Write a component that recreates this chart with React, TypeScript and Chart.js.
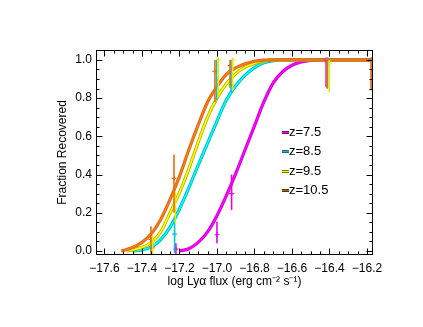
import { useEffect, useRef } from "react";
import { Chart, registerables } from "chart.js";

Chart.register(...registerables);

const FONT = '"Liberation Sans", Arial, Helvetica, sans-serif';

// axis ranges and tick labels
const X_MIN = -17.645;
const X_MAX = -16.168;
const Y_MIN = -0.021;
const Y_MAX = 1.052;
const xTickValues = [-17.6, -17.4, -17.2, -17.0, -16.8, -16.6, -16.4, -16.2];
const yTickValues = [0.0, 0.2, 0.4, 0.6, 0.8, 1.0];
const xTitle = "log Ly\u03b1 flux (erg cm\u207b\u00b2 s\u207b\u00b9)";
const yTitle = "Fraction Recovered";

const seriesLabels = ["z=7.5", "z=8.5", "z=9.5", "z=10.5"];

// fitted completeness curves
const fitX_z75 = [-17.2, -17.15, -17.1, -17.05, -17.0, -16.95, -16.9, -16.85, -16.8, -16.75, -16.7, -16.65, -16.6, -16.55, -16.5, -16.45, -16.4, -16.15];
const fitY_z75 = [0, 0.012, 0.045, 0.1, 0.185, 0.29, 0.405, 0.53, 0.655, 0.78, 0.88, 0.938, 0.972, 0.99, 0.998, 1.0, 1.0, 1.0];

const fitX_z85 = [-17.45, -17.4, -17.35, -17.3, -17.25, -17.2, -17.15, -17.1, -17.05, -17.0, -16.95, -16.9, -16.85, -16.8, -16.75, -16.7, -16.65, -16.6, -16.4, -16.15];
const fitY_z85 = [0, 0.006, 0.022, 0.06, 0.125, 0.22, 0.33, 0.45, 0.565, 0.68, 0.79, 0.865, 0.92, 0.96, 0.985, 0.996, 1.0, 1.0, 1.0, 1.0];

const fitX_z95 = [-17.48, -17.45, -17.4, -17.35, -17.3, -17.25, -17.2, -17.15, -17.1, -17.05, -17.0, -16.95, -16.9, -16.85, -16.8, -16.75, -16.7, -16.6, -16.4, -16.15];
const fitY_z95 = [0, 0.006, 0.018, 0.045, 0.1, 0.2, 0.305, 0.43, 0.57, 0.7, 0.8, 0.875, 0.928, 0.962, 0.982, 0.994, 1.0, 1.0, 1.0, 1.0];

const fitX_z105 = [-17.51, -17.45, -17.4, -17.35, -17.3, -17.25, -17.2, -17.15, -17.1, -17.05, -17.0, -16.95, -16.9, -16.85, -16.8, -16.75, -16.7, -16.6, -16.4, -16.15];
const fitY_z105 = [0, 0.018, 0.045, 0.09, 0.165, 0.27, 0.39, 0.53, 0.66, 0.78, 0.86, 0.925, 0.958, 0.98, 0.993, 0.999, 1.0, 1.0, 1.0, 1.0];

// measured points with error bars
const obsX_z75 = [-17.219, -17.0, -16.922, -16.418, -16.176];
const obsY_z75 = [0.01, 0.085, 0.3, 1.0, 1.0];
const obsLo_z75 = [-0.02, 0.04, 0.215, 0.86, 0.85];
const obsHi_z75 = [0.04, 0.153, 0.4, 1.0, 1.0];

const obsX_z85 = [-17.345, -17.226, -17.002, -16.925, -16.41, -16.174];
const obsY_z85 = [0.016, 0.088, 0.895, 0.87, 1.0, 1.0];
const obsLo_z85 = [-0.02, -0.01, 0.79, 0.83, 0.85, 0.845];
const obsHi_z85 = [0.035, 0.17, 1.0, 1.0, 1.0, 1.0];

const obsX_z95 = [-17.343, -17.222, -16.993, -16.916, -16.401, -16.171];
const obsY_z95 = [0.04, 0.22, 1.0, 1.0, 0.98, 0.98];
const obsLo_z95 = [-0.02, 0.145, 0.81, 0.84, 0.83, 0.84];
const obsHi_z95 = [0.085, 0.31, 1.01, 1.0, 1.0, 1.0];

const obsX_z105 = [-17.352, -17.229, -17.011, -16.93, -16.413, -16.178];
const obsY_z105 = [0.06, 0.38, 0.94, 0.97, 1.0, 1.0];
const obsLo_z105 = [-0.02, 0.2, 0.78, 0.855, 0.85, 0.84];
const obsHi_z105 = [0.13, 0.505, 1.0, 1.0, 1.0, 1.0];

const series = [
  { label: seriesLabels[0], fitX: fitX_z75, fitY: fitY_z75, obsX: obsX_z75, obsY: obsY_z75, lo: obsLo_z75, hi: obsHi_z75, line: "#ff00ff", edge: "#d000d8", bar: "#f000f0", swDark: "#800080", swLight: "#ff00ff" },
  { label: seriesLabels[1], fitX: fitX_z85, fitY: fitY_z85, obsX: obsX_z85, obsY: obsY_z85, lo: obsLo_z85, hi: obsHi_z85, line: "#00ffff", edge: "#00b8c0", bar: "#00c8d0", swDark: "#1a6a6a", swLight: "#40a8a8" },
  { label: seriesLabels[2], fitX: fitX_z95, fitY: fitY_z95, obsX: obsX_z95, obsY: obsY_z95, lo: obsLo_z95, hi: obsHi_z95, line: "#ffff00", edge: "#b4b400", bar: "#e8e800", swDark: "#7a7a00", swLight: "#ffff00" },
  { label: seriesLabels[3], fitX: fitX_z105, fitY: fitY_z105, obsX: obsX_z105, obsY: obsY_z105, lo: obsLo_z105, hi: obsHi_z105, line: "#f47a1c", edge: "#e06810", bar: "#e87010", swDark: "#5e3408", swLight: "#a06020" },
];

const toPts = (xs: number[], ys: number[]) => xs.map((x, i) => ({ x, y: ys[i] }));
const fmt = (v: number) => {
  const s = Number(v).toFixed(1);
  return s.startsWith("-") ? "\u2212" + s.slice(1) : s;
};

const errorBarPlugin = {
  id: "errorBars",
  afterDatasetsDraw(chart: any) {
    const { ctx, chartArea: a, scales } = chart;
    const xs = scales.x;
    const ys = scales.y;
    ctx.save();
    ctx.beginPath();
    ctx.rect(a.left, a.top, a.right - a.left, a.bottom - a.top);
    ctx.clip();
    ctx.lineWidth = 1.6;
    series.forEach((s) => {
      ctx.strokeStyle = s.bar;
      s.obsX.forEach((xv, i) => {
        const px = xs.getPixelForValue(xv);
        ctx.beginPath();
        ctx.moveTo(px, ys.getPixelForValue(s.lo[i]));
        ctx.lineTo(px, ys.getPixelForValue(s.hi[i]));
        ctx.stroke();
      });
    });
    ctx.restore();
  },
};

const framePlugin = {
  id: "frameTicks",
  afterDraw(chart: any) {
    const { ctx, chartArea: a, scales } = chart;
    const xs = scales.x;
    const ys = scales.y;
    ctx.save();
    ctx.strokeStyle = "#000";
    ctx.lineWidth = 1;
    const L = Math.round(a.left) + 0.5;
    const R = Math.round(a.right) - 0.5;
    const T = Math.round(a.top) + 0.5;
    const B = Math.round(a.bottom) - 0.5;
    ctx.strokeRect(L, T, R - L, B - T);
    const major = 6;
    const minor = 3;
    ctx.beginPath();
    // x ticks (bottom + top)
    const xStep = xTickValues[1] - xTickValues[0];
    for (let i = 0; i < xTickValues.length; i++) {
      const v = xTickValues[i];
      const p = Math.round(xs.getPixelForValue(v)) + 0.5;
      ctx.moveTo(p, B); ctx.lineTo(p, B - major);
      ctx.moveTo(p, T); ctx.lineTo(p, T + major);
      for (let k = -3; k <= 3; k++) {
        if (k === 0) continue;
        const mv = v + (k * xStep) / 4;
        if (mv <= X_MIN || mv >= X_MAX) continue;
        if (k < 0 && i > 0) continue;
        const mp = Math.round(xs.getPixelForValue(mv)) + 0.5;
        ctx.moveTo(mp, B); ctx.lineTo(mp, B - minor);
        ctx.moveTo(mp, T); ctx.lineTo(mp, T + minor);
      }
    }
    // y ticks (left + right)
    const yStep = yTickValues[1] - yTickValues[0];
    for (let i = 0; i < yTickValues.length; i++) {
      const v = yTickValues[i];
      const p = Math.round(ys.getPixelForValue(v)) + 0.5;
      ctx.moveTo(L, p); ctx.lineTo(L + major, p);
      ctx.moveTo(R, p); ctx.lineTo(R - major, p);
      for (let k = -3; k <= 3; k++) {
        if (k === 0) continue;
        const mv = v + (k * yStep) / 4;
        if (mv <= Y_MIN || mv >= Y_MAX - 0.005) continue;
        if (k < 0 && i > 0) continue;
        const mp = Math.round(ys.getPixelForValue(mv)) + 0.5;
        ctx.moveTo(L, mp); ctx.lineTo(L + minor, mp);
        ctx.moveTo(R, mp); ctx.lineTo(R - minor, mp);
      }
    }
    ctx.stroke();

    // legend inside plot
    const rowY = [131.5, 151, 170.5, 190];
    ctx.font = `13px ${FONT}`;
    ctx.textBaseline = "middle";
    ctx.textAlign = "left";
    series.forEach((s, i) => {
      const y = rowY[i];
      ctx.fillStyle = s.swDark;
      ctx.fillRect(282, Math.round(y) - 1, 7, 3);
      ctx.fillStyle = s.swLight;
      ctx.fillRect(282, Math.round(y), 7, 1);
      ctx.fillStyle = "#000";
      ctx.fillText(s.label, 289, y + 0.5);
    });
    ctx.restore();
  },
};

export default function App() {
  const ref = useRef<HTMLCanvasElement | null>(null);

  useEffect(() => {
    if (!ref.current) return;
    const datasets: any[] = [];
    series.forEach((s, i) => {
      const base = 100 - i * 10;
      datasets.push({
        label: s.label + " edge",
        data: toPts(s.fitX, s.fitY),
        borderColor: s.edge,
        borderWidth: 3.2,
        pointRadius: 0,
        fill: false,
        cubicInterpolationMode: "monotone",
        order: base,
      });
      datasets.push({
        label: s.label,
        data: toPts(s.fitX, s.fitY),
        borderColor: s.line,
        borderWidth: 1.5,
        pointRadius: 0,
        fill: false,
        cubicInterpolationMode: "monotone",
        order: base - 1,
      });
      datasets.push({
        label: s.label + " data",
        data: toPts(s.obsX, s.obsY),
        showLine: false,
        pointStyle: "cross",
        pointRadius: 2.5,
        pointBorderWidth: 1.2,
        pointBorderColor: s.bar,
        pointBackgroundColor: s.bar,
        order: 5 - i,
      });
    });

    const chart = new Chart(ref.current, {
      type: "line",
      data: { datasets },
      options: {
        responsive: false,
        animation: false,
        devicePixelRatio: 1,
        layout: { padding: { top: 50, right: 50, left: 0, bottom: 0 } },
        plugins: {
          legend: { display: false },
          tooltip: { enabled: false },
          title: { display: false },
        },
        scales: {
          x: {
            type: "linear",
            min: X_MIN,
            max: X_MAX,
            afterBuildTicks: (s: any) => {
              s.ticks = xTickValues.map((v) => ({ value: v }));
            },
            afterFit: (s: any) => {
              s.height = 72;
            },
            grid: { display: false, drawTicks: false },
            border: { display: false },
            ticks: {
              color: "#000",
              font: { family: FONT, size: 12 },
              padding: 6,
              maxRotation: 0,
              autoSkip: false,
              callback: (v: any) => fmt(v),
            },
            title: {
              display: true,
              text: xTitle,
              color: "#000",
              font: { family: FONT, size: 12 },
              padding: { top: 0, bottom: 38 },
            },
          },
          y: {
            type: "linear",
            min: Y_MIN,
            max: Y_MAX,
            afterBuildTicks: (s: any) => {
              s.ticks = yTickValues.map((v) => ({ value: v }));
            },
            afterFit: (s: any) => {
              s.width = 96;
            },
            grid: { display: false, drawTicks: false },
            border: { display: false },
            ticks: {
              color: "#000",
              font: { family: FONT, size: 12 },
              padding: 4,
              autoSkip: false,
              callback: (v: any) => fmt(v),
            },
            title: {
              display: true,
              text: yTitle,
              color: "#000",
              font: { family: FONT, size: 12 },
              padding: { top: 55, bottom: 0 },
            },
          },
        },
      },
      plugins: [errorBarPlugin, framePlugin],
    });
    return () => chart.destroy();
  }, []);

  return (
    <canvas
      ref={ref}
      width={423}
      height={327}
      style={{ position: "fixed", left: 0, top: 0, width: 423, height: 327, display: "block", background: "#fff" }}
    />
  );
}
